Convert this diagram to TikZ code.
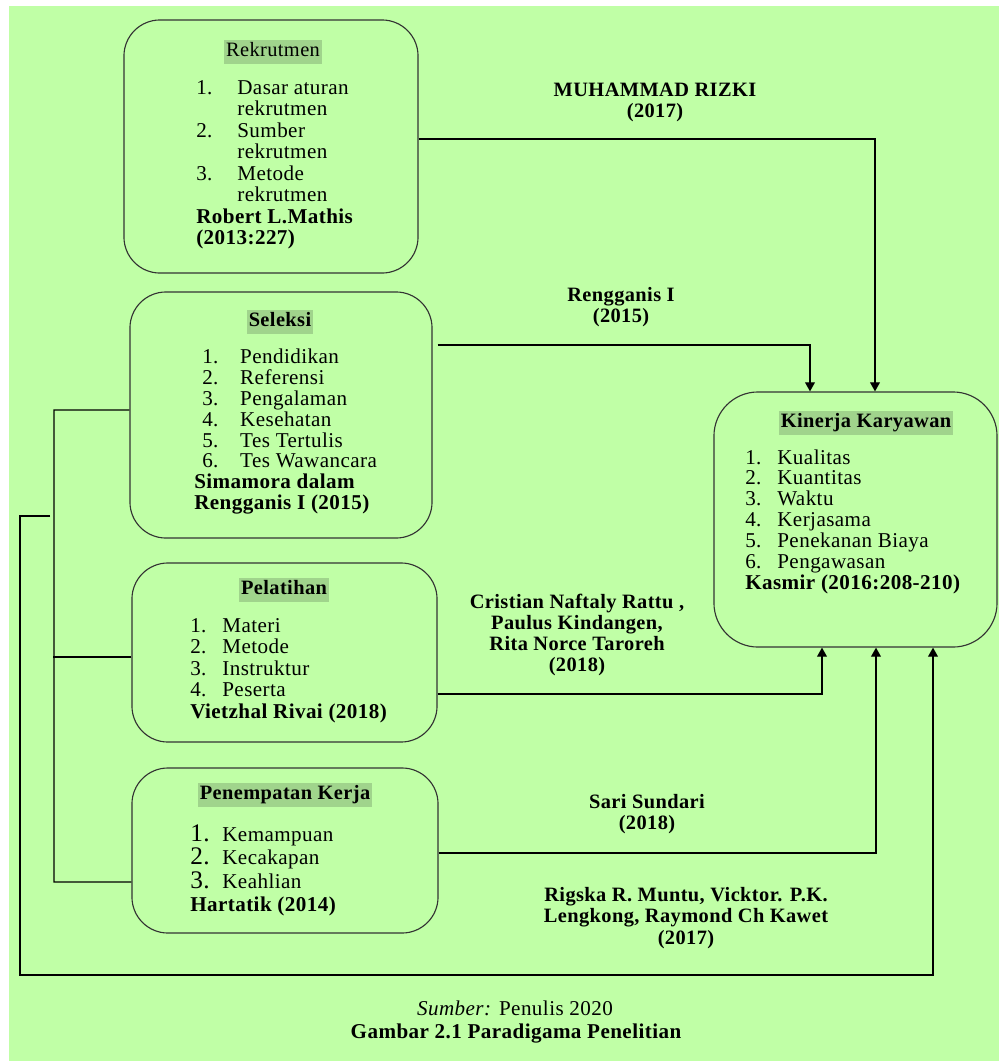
\documentclass[tikz,border=0pt]{standalone}
\usepackage{fontspec}
\setmainfont{Liberation Serif}[LetterSpace=2]
\usepackage{tikz}
\usetikzlibrary{positioning, arrows.meta, calc}
\definecolor{bggreen}{RGB}{192,255,166}
\definecolor{hlgreen}{RGB}{160,212,140}

\begin{document}
\begin{tikzpicture}[x=0.025cm, y=-0.025cm,
        box/.style={draw=black!80, line width=0.8pt, rounded corners=0.9cm, fill=bggreen, inner sep=0pt},
        head/.style={fill=hlgreen, inner xsep=1.5pt, inner ysep=1.5pt, text height=10.5pt, text depth=3.5pt,
            font=\fontsize{14.5}{15}\selectfont\bfseries},
        list/.style={anchor=base west, inner sep=0pt, font=\fontsize{15}{15.3}\selectfont},
        lbl/.style={align=center, inner sep=0pt, font=\fontsize{14.5}{15}\selectfont\bfseries},
        link/.style={line width=1pt},
        arr/.style={link, -{Triangle[width=7pt,length=6.5pt]}}]
    \useasboundingbox (0,0) rectangle (999,1061);
    \fill[bggreen] (9,6) rectangle (999,1061);

    \node[box, minimum width=7.35cm, minimum height=6.325cm] (rek) at (271,146.5) {};
    \node[box, minimum width=7.55cm, minimum height=6.15cm] (sel) at (281,415) {};
    \node[box, minimum width=7.625cm, minimum height=4.475cm] (pel) at (284.5,652.5) {};
    \node[box, minimum width=7.65cm, minimum height=4.125cm] (pen) at (285,850.5) {};
    \node[box, rounded corners=1.1cm, minimum width=7.075cm, minimum height=6.375cm] (kin) at (855.5,519.5) {};

    \node[head, font=\fontsize{14.5}{15}\selectfont] (rekhead) at (273,52) {Rekrutmen};
    \node[head] (selhead) at (280,322) {Seleksi};
    \node[head] (pelhead) at (284,590) {Pelatihan};
    \node[head] (penhead) at (285,795) {Penempatan Kerja};
    \node[head] (kinhead) at (866,423) {Kinerja Karyawan};

    \node[list] (reklist) at (196,94) {\begin{tabular}[t]{@{}p{29.2pt}@{}l@{}}
        1. & Dasar aturan\\ & rekrutmen\\
        2. & Sumber\\ & rekrutmen\\
        3. & Metode\\ & rekrutmen\\
        \multicolumn{2}{@{}l@{}}{\textbf{Robert L.Mathis}}\\
        \multicolumn{2}{@{}l@{}}{\textbf{(2013:227)}}
    \end{tabular}};
    \node[list, font=\fontsize{15}{14.9}\selectfont] (sellist) at (194,363) {\begin{tabular}[t]{@{\hspace{5.7pt}}p{27pt}@{}l@{}}
        1. & Pendidikan\\
        2. & Referensi\\
        3. & Pengalaman\\
        4. & Kesehatan\\
        5. & Tes Tertulis\\
        6. & Tes Wawancara\\
        \multicolumn{2}{@{}l@{}}{\textbf{Simamora dalam}}\\
        \multicolumn{2}{@{}l@{}}{\textbf{Rengganis I (2015)}}
    \end{tabular}};
    \node[list] (pellist) at (190,632) {\begin{tabular}[t]{@{}p{22.8pt}@{}l@{}}
        1. & Materi\\
        2. & Metode\\
        3. & Instruktur\\
        4. & Peserta\\
        \multicolumn{2}{@{}l@{}}{\textbf{Vietzhal Rivai (2018)}}
    \end{tabular}};
    \node[list, font=\fontsize{15}{16.6}\selectfont] (penlist) at (190,841) {\begin{tabular}[t]{@{}p{22.8pt}@{}l@{}}
        {\fontsize{18}{16.6}\selectfont 1.} & Kemampuan\\
        {\fontsize{18}{16.6}\selectfont 2.} & Kecakapan\\
        {\fontsize{18}{16.6}\selectfont 3.} & Keahlian\\
        \multicolumn{2}{@{}l@{}}{\textbf{Hartatik (2014)}}
    \end{tabular}};
    \node[list, font=\fontsize{15}{14.9}\selectfont] (kinlist) at (745,464) {\begin{tabular}[t]{@{}p{22.8pt}@{}l@{}}
        1. & Kualitas\\
        2. & Kuantitas\\
        3. & Waktu\\
        4. & Kerjasama\\
        5. & Penekanan Biaya\\
        6. & Pengawasan\\
        \multicolumn{2}{@{}l@{}}{\textbf{Kasmir (2016:208-210)}}
    \end{tabular}};

    \node[lbl] (rizki) at (655,102.5) {MUHAMMAD RIZKI\\(2017)};
    \node[lbl] (rengganis) at (621,307.5) {Rengganis I\\(2015)};
    \node[lbl] (rattu) at (577,635) {Cristian Naftaly Rattu ,\\Paulus Kindangen,\\Rita Norce Taroreh\\(2018)};
    \node[lbl] (sundari) at (647,814.5) {Sari Sundari\\(2018)};
    \node[lbl] (muntu) at (686,918) {Rigska R. Muntu, Vicktor. P.K.\\Lengkong, Raymond Ch Kawet\\(2017)};

    \node[inner sep=0pt, font=\fontsize{15}{15}\selectfont] (sumber) at (515,1008) {\textit{Sumber:} Penulis 2020};
    \node[inner sep=0pt, font=\fontsize{15}{15}\selectfont\bfseries] (gambar) at (516,1033) {Gambar 2.1 Paradigama Penelitian};

    \coordinate (brbot) at (54,882);
    \coordinate (loopstart) at (50,516);
    \coordinate (loopcorner) at (20,975);

    \draw[arr] ($(rek.east)+(0,-7.5)$) -| ($(kin.north)+(19.5,0)$);
    \draw[arr] ($(sel.east)+(5,-70)$) -| ($(kin.north)+(-45.5,0)$);
    \draw[arr] ($(pel.east)+(0,41.5)$) -| ($(kin.south)+(-33.5,0)$);
    \draw[arr] ($(pen.east)+(0,2.5)$) -| ($(kin.south)+(20.5,0)$);
    \draw[arr] (loopstart) -| (loopcorner) -| ($(kin.south)+(77.5,0)$);

    \draw[link] ($(sel.west)+(0,-5)$) -| (brbot) -- ($(pen.west)+(0,31.5)$);
    \draw[link] ($(pel.west)+(0,4.5)$) -- ($(pel.west)+(-78,4.5)$);
\end{tikzpicture}
\end{document}
